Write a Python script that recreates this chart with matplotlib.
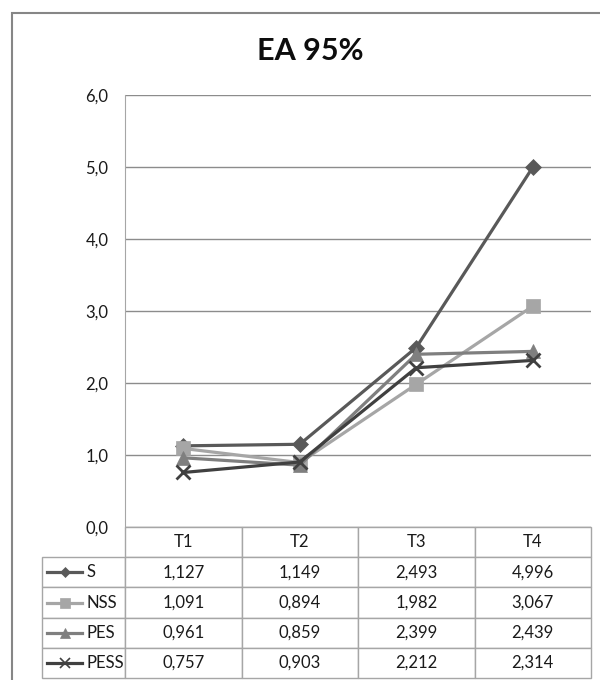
import matplotlib
matplotlib.use("Agg")
import matplotlib.pyplot as plt
from matplotlib.patches import Rectangle
from matplotlib.ticker import FuncFormatter

plt.rcParams['font.family'] = ['Lato', 'DejaVu Sans']

title = "EA 95%"
categories = ["T1", "T2", "T3", "T4"]
names = ["S", "NSS", "PES", "PESS"]
s_vals = [1.127, 1.149, 2.493, 4.996]
nss_vals = [1.091, 0.894, 1.982, 3.067]
pes_vals = [0.961, 0.859, 2.399, 2.439]
pess_vals = [0.757, 0.903, 2.212, 2.314]
series = [s_vals, nss_vals, pes_vals, pess_vals]

# стиль линий: цвет, маркер, размер маркера
styles = [
    ('#595959', 'D', 8),
    ('#A6A6A6', 's', 10),
    ('#7F7F7F', '^', 10),
    ('#404040', 'x', 10),
]


def comma(v, pos=None, digits=1):
    return f"{v:.{digits}f}".replace('.', ',')


fig = plt.figure(figsize=(6, 6.8), dpi=100)
ax = fig.add_axes([125 / 600, 1 - 527 / 680, 466 / 600, 432 / 680])

x = list(range(len(categories)))
for vals, (color, marker, ms) in zip(series, styles):
    ax.plot(x, vals, color=color, lw=2.3, marker=marker, markersize=ms,
            markeredgewidth=2 if marker == 'x' else 0.5, markeredgecolor=color,
            clip_on=False)

ax.set_xlim(-0.5, len(categories) - 0.5)
ax.set_ylim(0, 6)
ax.set_yticks(range(0, 7))
ax.yaxis.set_major_formatter(FuncFormatter(comma))
ax.tick_params(axis='y', length=0, pad=12, labelsize=12, labelcolor='#1a1a1a')
ax.set_xticks([])
ax.grid(axis='y', color='#8C8C8C', lw=1)
ax.set_axisbelow(True)
for side in ('top', 'right', 'bottom'):
    ax.spines[side].set_visible(False)
ax.spines['left'].set_color('#A6A6A6')

# таблица данных под графиком (первый столбец - подписи рядов)
lab_w = 83 / 466
cell_text = [[n] + [comma(v, digits=3) for v in vals] for n, vals in zip(names, series)]
tbl = ax.table(cellText=cell_text, colLabels=[""] + categories,
               cellLoc='center', bbox=[-lab_w, -151 / 432, 1 + lab_w, 151 / 432])
tbl.auto_set_font_size(False)
tbl.set_fontsize(12)
for (r, c), cell in tbl.get_celld().items():
    cell.set_edgecolor('#A6A6A6')
    cell.set_linewidth(1)
    cell.get_text().set_color('#1a1a1a')
    if c == 0:
        cell.set_width(83)
        cell.PAD = 0.54
        cell.get_text().set_horizontalalignment('left')
        cell._loc = 'left'
    else:
        cell.set_width(116.5)
tbl[0, 0].visible_edges = ''
tbl[0, 0].set_facecolor('none')

# ключи легенды в строках таблицы
row_h = 151 / 432 / 5
x0, x1 = (47 - 125) / 466, (82 - 125) / 466
for i, (color, marker, ms) in enumerate(styles):
    yk = -(i + 1.5) * row_h
    ax.plot([x0, x1], [yk, yk], color=color, lw=2.3, transform=ax.transAxes, clip_on=False)
    ax.plot([(x0 + x1) / 2], [yk], marker=marker, color=color, markersize=ms * 0.7,
            markeredgewidth=1.2 if marker == 'x' else 0.5, markeredgecolor=color,
            transform=ax.transAxes, clip_on=False)

fig.text(310 / 600, 1 - 51 / 680, title, ha='center', va='center',
         fontsize=22, fontweight='bold', color='#0d0d0d')

fig.patches.append(Rectangle((12 / 600, -0.1), 1.2, 1 - 13 / 680 + 0.1,
                             transform=fig.transFigure, fill=False,
                             edgecolor='#868686', lw=1.5))

fig.savefig('out.png', dpi=100)
